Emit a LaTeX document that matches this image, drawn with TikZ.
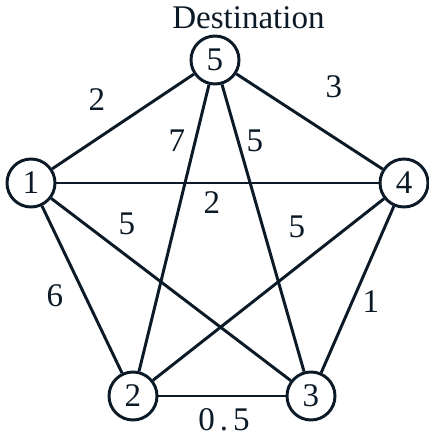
\documentclass[tikz,border=0pt]{standalone}
\usepackage{fontspec}
\setmainfont{Liberation Serif}
\definecolor{ink}{HTML}{0B1A26}
\begin{document}
\begin{tikzpicture}[
    vertex/.style={circle,draw=ink,line width=2.1pt,minimum size=1.2cm,inner sep=0pt,text=ink},
    weight/.style={text=ink,inner sep=0pt},
    every node/.style={font=\fontsize{23.5}{28}\selectfont}
  ]
  \useasboundingbox (0,0) rectangle (10.7,-10.95);
  % vertices
  \node[vertex] (v5) at (5.375,-1.5) {5};
  \node[vertex] (v1) at (0.775,-4.575) {1};
  \node[vertex] (v4) at (10.1,-4.575) {4};
  \node[vertex] (v2) at (3.325,-9.9) {2};
  \node[vertex] (v3) at (7.775,-9.9) {3};
  \node[weight,anchor=west] (dest) at (4.3,-0.45) {Destination};
  % edges
  \foreach \a/\b in {v1/v5,v5/v4,v1/v4,v1/v2,v1/v3,v5/v2,v5/v3,v4/v2,v4/v3,v2/v3} {
    \draw[ink,line width=2.1pt] (\a) -- (\b);
  }
  % weights
  \node[weight] (w15) at (2.425,-2.5) {2};
  \node[weight] (w54) at (8.35,-2.175) {3};
  \node[weight] (w52) at (4.425,-3.525) {7};
  \node[weight] (w53) at (6.375,-3.525) {5};
  \node[weight] (w14) at (5.3,-5.075) {2};
  \node[weight] (w13) at (3.175,-5.6) {5};
  \node[weight] (w42) at (7.425,-5.675) {5};
  \node[weight] (w12) at (1.375,-7.4) {6};
  \node[weight] (w43) at (9.275,-7.55) {1};
  \node[weight] (w23) at (5.6,-10.5) {0\kern3.5pt.\kern3.5pt5};
\end{tikzpicture}
\end{document}
